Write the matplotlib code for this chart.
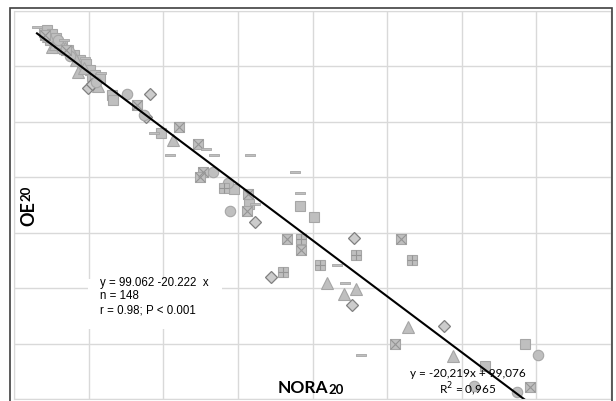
import matplotlib
matplotlib.use('Agg')
import matplotlib.pyplot as plt
from matplotlib.patches import Rectangle
from matplotlib.path import Path

# values (x: NORA20, y: OE20)
sq_x = [0.201, 0.221, 0.255, 0.242, 0.282, 0.295, 0.322, 0.362, 0.403, 0.443, 0.456, 0.483,
        0.510, 0.523, 0.544, 0.577, 0.658, 0.664, 0.987, 1.477, 1.577, 1.919, 2.007, 3.423, 3.154]
sq_y = [96.2, 96.6, 95.9, 94.8, 95.1, 93.3, 93.9, 93.0, 92.1, 91.2, 90.1, 90.5,
        89.4, 88.3, 88.5, 87.9, 84.9, 84.0, 78.0, 67.9, 65.2, 64.9, 62.9, 40.0, 36.0]

tri_x = [0.228, 0.255, 0.275, 0.309, 0.342, 0.389, 0.416, 0.430, 0.470, 0.564,
         1.067, 2.094, 2.208, 2.289, 2.638, 2.940]
tri_y = [95.5, 93.5, 94.1, 94.4, 93.3, 92.6, 91.2, 89.0, 89.7, 86.5,
         76.8, 51.0, 49.0, 49.9, 42.9, 37.8]

dia_x = [0.497, 0.523, 0.913, 0.886, 1.617, 2.275, 1.725, 2.268, 2.879]
dia_y = [86.1, 86.8, 85.0, 80.9, 62.0, 59.1, 52.1, 47.0, 43.1]

cir_x = [0.295, 0.376, 0.550, 0.758, 0.872, 1.336, 1.436, 1.450, 3.510, 3.081, 3.369]
cir_y = [94.8, 91.9, 87.2, 85.0, 81.3, 71.0, 69.0, 64.0, 38.0, 32.3, 31.2]

xsq_x = [0.208, 0.349, 0.826, 1.107, 1.235, 1.268, 1.248, 1.570, 1.564, 1.832, 1.926,
         2.591, 2.550, 3.456]
xsq_y = [95.7, 93.0, 83.1, 79.1, 76.0, 71.0, 70.1, 67.0, 64.0, 58.9, 56.9,
         58.9, 40.0, 32.1]

psq_x = [1.409, 1.926, 2.289, 2.664, 2.047, 1.799]
psq_y = [68.1, 58.9, 56.0, 55.0, 54.1, 53.0]

dash_x = [0.154, 0.336, 0.477, 0.584, 0.940, 1.047, 1.289, 1.342, 1.584, 1.886, 1.913,
          1.617, 2.161, 2.221, 2.322]
dash_y = [97.1, 94.8, 91.5, 88.8, 78.0, 74.1, 75.1, 74.1, 74.1, 71.0, 67.2,
          65.2, 54.1, 51.0, 38.0]

fit_a = 99.076
fit_b = -20.219

fill = '#bfbfbf'
edge = '#a6a6a6'

fig = plt.figure(figsize=(6.16, 4.01), dpi=100)
ax = fig.add_axes([14 / 616, 2 / 401, 597 / 616, 388 / 401])

ax.set_xlim(0, 4)
ax.set_ylim(30, 100)
ax.set_xticks([i * 0.5 for i in range(9)])
ax.set_yticks([30 + i * 10 for i in range(8)])
ax.tick_params(length=0, labelbottom=False, labelleft=False)
ax.grid(True, color='#d9d9d9', linewidth=1)
ax.set_axisbelow(True)
for s in ax.spines.values():
    s.set_color('#d9d9d9')

ms = 7.5
ax.plot(sq_x, sq_y, 's', ms=ms, mfc=fill, mec=edge, mew=0.8)
ax.plot(tri_x, tri_y, '^', ms=ms + 0.5, mfc=fill, mec=edge, mew=0.8)
ax.plot(dia_x, dia_y, 'D', ms=6.3, mfc='#cccccc', mec='#808080', mew=0.9)
ax.plot(cir_x, cir_y, 'o', ms=ms, mfc=fill, mec=edge, mew=0.8)
ax.plot(xsq_x, xsq_y, 's', ms=ms, mfc=fill, mec=edge, mew=0.8)
ax.plot(xsq_x, xsq_y, 'x', ms=ms, mec='#959595', mew=0.8)
ax.plot(psq_x, psq_y, 's', ms=ms, mfc=fill, mec=edge, mew=0.8)
ax.plot(psq_x, psq_y, '+', ms=ms, mec='#959595', mew=0.8)
bar = Path([(-1, -0.3), (1, -0.3), (1, 0.3), (-1, 0.3), (-1, -0.3)])
ax.plot(dash_x, dash_y, ls='none', marker=bar, ms=6.5, mfc=fill, mec=edge, mew=0.6)

all_x = sq_x + tri_x + dia_x + cir_x + xsq_x + psq_x + dash_x
x0, x1 = min(all_x), max(all_x)
ax.plot([x0, x1], [fit_a + fit_b * x0, fit_a + fit_b * x1], color='black', lw=1.5)

# stats box
ax.add_patch(Rectangle((74 / 149, 100 - 318 / 5.55), 134 / 149, 50 / 5.55,
                       facecolor='white', edgecolor='none', zorder=3))
ax.text(0.578, 52.1, "y = 99.062 -20.222  x\nn = 148\nr = 0.98; P < 0.001",
        fontsize=8.3, family='Liberation Sans', va='top', linespacing=1.2, zorder=4)

ax.text(3.04, 34.6, "y = -20,219x + 99,076", fontsize=8.5, family='Lato',
        ha='center', va='center', zorder=4)
ax.text(3.04, 31.7, "R$^2$ = 0,965", fontsize=8.5, family='Lato',
        ha='center', va='center', zorder=4)

# axis titles
t1 = fig.text(278 / 616, 1 - 393 / 401, "NORA", fontsize=12.5, fontweight='bold',
              family='Lato', va='baseline')
ax.annotate("20", xy=(1, 0), xycoords=t1, fontsize=9.5, fontweight='bold',
            family='Lato', va='bottom', annotation_clip=False)
t2 = fig.text(37 / 616, 1 - 226 / 401, "OE", fontsize=13, fontweight='bold',
              family='Lato', rotation=90, ha='right', va='bottom')
ax.annotate("20", xy=(0, 1), xycoords=t2, fontsize=9.5, fontweight='bold',
            family='Lato', rotation=90, ha='left', va='bottom', annotation_clip=False)

# outer frame
fig.patches.append(Rectangle((10 / 616, -0.02), 602 / 616, 1 - 8 / 401 + 0.02,
                             transform=fig.transFigure, fill=False,
                             edgecolor='#404040', lw=1.2))

plt.savefig('out.png', dpi=100)
